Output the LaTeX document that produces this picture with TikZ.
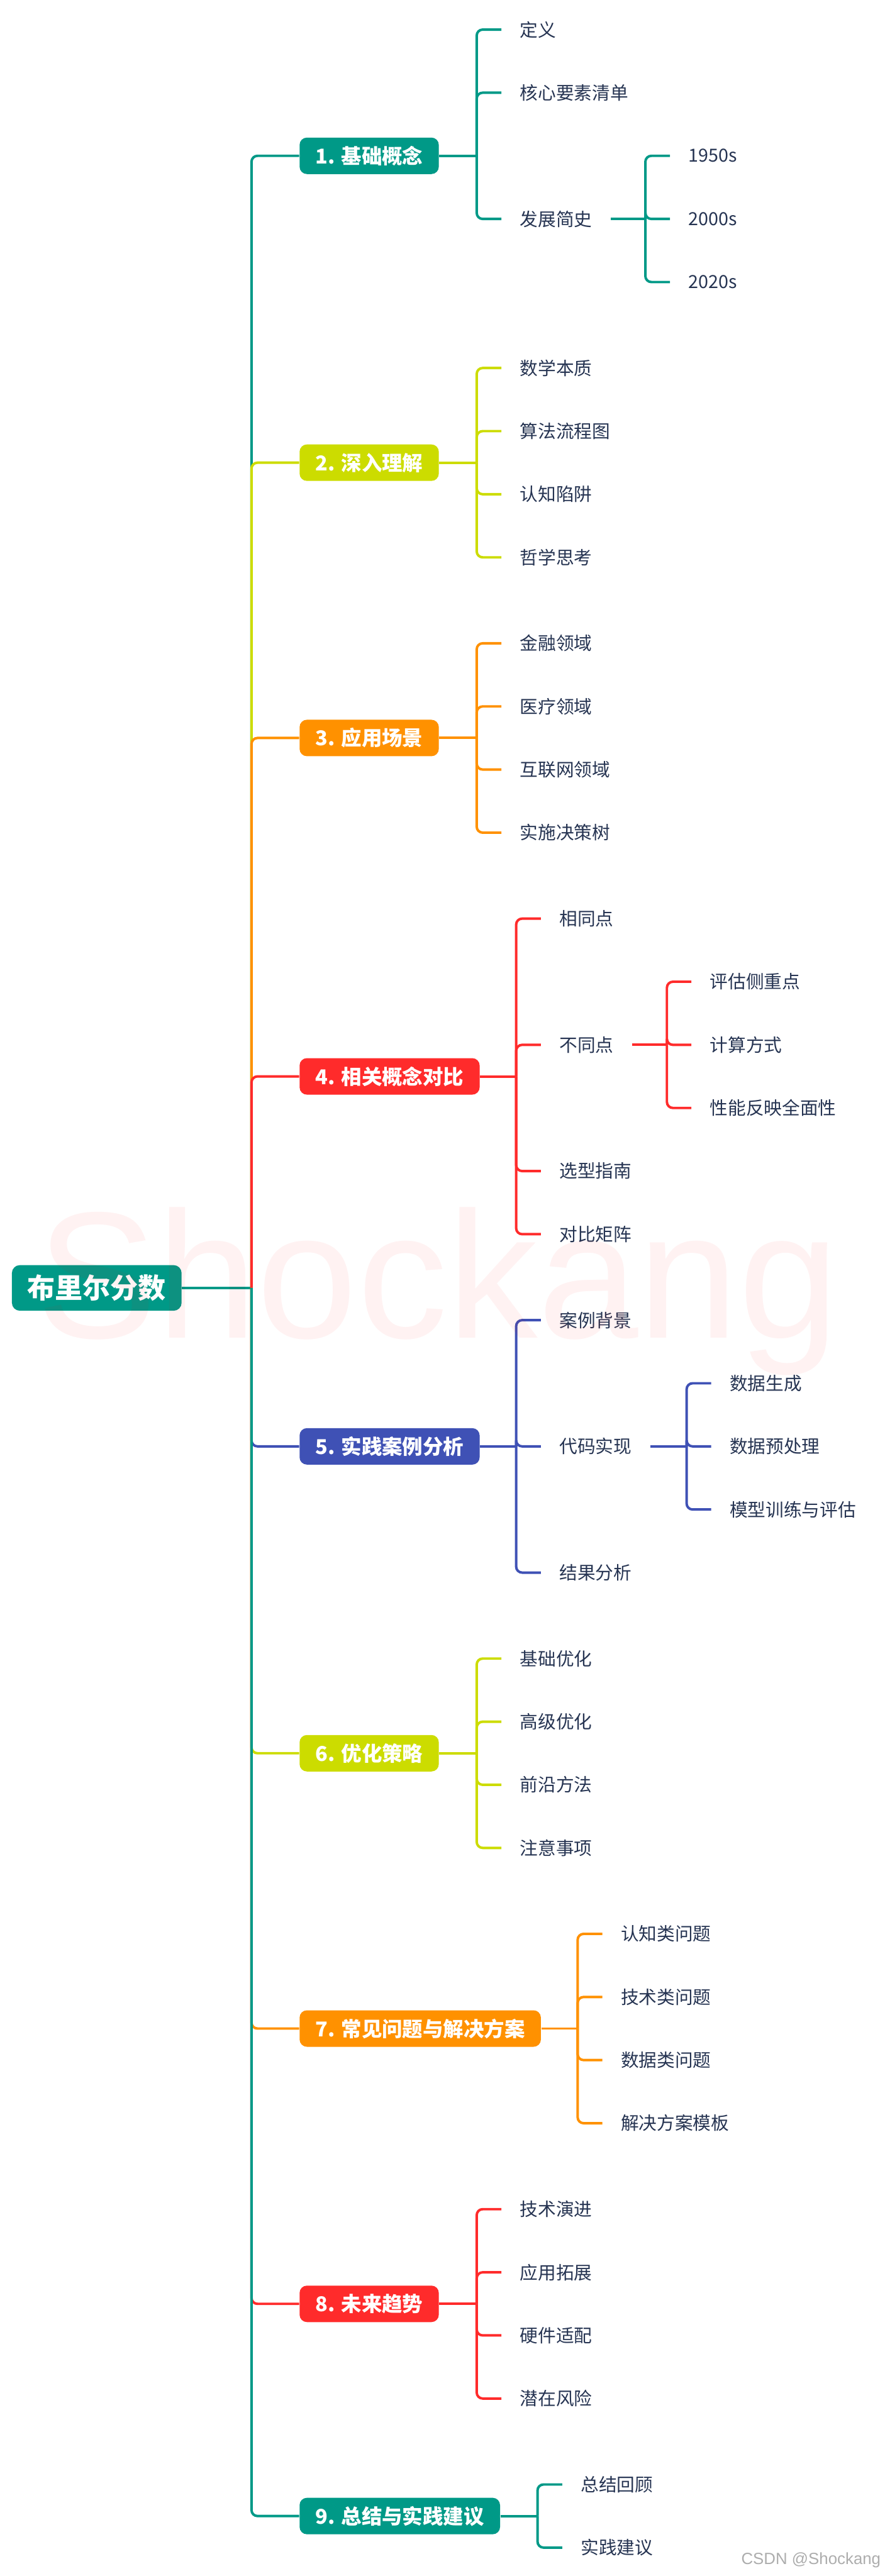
\documentclass[tikz,border=0pt]{standalone}
\usepackage{fontspec}
\setmainfont{Noto Sans CJK SC}
\newfontfamily\latinfont{Liberation Sans}
\usetikzlibrary{calc}

\definecolor{brteal}{RGB}{0,153,135}
\definecolor{brlime}{RGB}{204,220,0}
\definecolor{brorange}{RGB}{255,145,0}
\definecolor{brred}{RGB}{255,43,43}
\definecolor{brblue}{RGB}{63,81,181}
\definecolor{leaftext}{RGB}{38,52,82}

\begin{document}
\begin{tikzpicture}[
    x=0.029145cm, y=-0.029145cm,
    root/.style={rectangle, rounded corners=4pt, fill=brteal, text=white, inner xsep=7.8pt, minimum height=23pt, font=\fontsize{14}{16}\selectfont\bfseries},
    topic/.style={rectangle, rounded corners=3.7pt, text=white, inner xsep=8pt, minimum height=18.4pt, anchor=west, font=\fontsize{10.3}{13}\selectfont\bfseries},
    leaf/.style={anchor=west, text=leaftext, inner xsep=9.2pt, inner ysep=1pt, font=\fontsize{9.1}{11}\selectfont},
    link/.style={line width=1.25pt, rounded corners=3pt}
]

\useasboundingbox (0,0) rectangle (538,1567.3);

% Root
\node[root, anchor=west] (brier) at (7,783.6) {布里尔分数};

% Main topics
\node[topic, fill=brteal] (basics) at (182,94.8) {1. 基础概念};
\node[topic, fill=brlime] (insight) at (182,281.5) {2. 深入理解};
\node[topic, fill=brorange] (apps) at (182,449.0) {3. 应用场景};
\node[topic, fill=brred] (compare) at (182,654.9) {4. 相关概念对比};
\node[topic, fill=brblue] (practice) at (182,880.0) {5. 实践案例分析};
\node[topic, fill=brlime] (optim) at (182,1066.7) {6. 优化策略};
\node[topic, fill=brorange] (faq) at (182,1234.2) {7. 常见问题与解决方案};
\node[topic, fill=brred] (future) at (182,1401.7) {8. 未来趋势};
\node[topic, fill=brteal] (summary) at (182,1530.8) {9. 总结与实践建议};

% Junctions
\coordinate (trunk) at (153,783.6);
\coordinate (jbasics) at (290,94.8);
\coordinate (jinsight) at (290,281.5);
\coordinate (japps) at (290,449.0);
\coordinate (jcompare) at (314,654.9);
\coordinate (jpractice) at (314,880.0);
\coordinate (joptim) at (290,1066.7);
\coordinate (jfaq) at (351.4,1234.2);
\coordinate (jfuture) at (290,1401.7);
\coordinate (jsummary) at (327,1530.8);
\coordinate (jhistory) at (392.6,133.2);
\coordinate (jdiff) at (405.7,635.7);
\coordinate (jcode) at (417.7,880.0);

% 1. basics
\node[leaf] (definition) at (305,18.0) {定义};
\node[leaf] (elements) at (305,56.4) {核心要素清单};
\node[leaf] (history) at (305,133.2) {发展简史};
\node[leaf] (y1950) at (407.6,94.8) {1950s};
\node[leaf] (y2000) at (407.6,133.2) {2000s};
\node[leaf] (y2020) at (407.6,171.6) {2020s};

% 2. insight
\node[leaf] (mathcore) at (305,223.9) {数学本质};
\node[leaf] (flowchart) at (305,262.3) {算法流程图};
\node[leaf] (pitfalls) at (305,300.7) {认知陷阱};
\node[leaf] (philosophy) at (305,339.1) {哲学思考};

% 3. apps
\node[leaf] (finance) at (305,391.4) {金融领域};
\node[leaf] (medical) at (305,429.8) {医疗领域};
\node[leaf] (internet) at (305,468.2) {互联网领域};
\node[leaf] (dectree) at (305,506.6) {实施决策树};

% 4. compare
\node[leaf] (same) at (329,558.9) {相同点};
\node[leaf] (diff) at (329,635.7) {不同点};
\node[leaf] (focus) at (420.6,597.3) {评估侧重点};
\node[leaf] (calcway) at (420.6,635.7) {计算方式};
\node[leaf] (coverage) at (420.6,674.1) {性能反映全面性};
\node[leaf] (guide) at (329,712.5) {选型指南};
\node[leaf] (matrix) at (329,750.9) {对比矩阵};

% 5. practice
\node[leaf] (background) at (329,803.2) {案例背景};
\node[leaf] (code) at (329,880.0) {代码实现};
\node[leaf] (datagen) at (432.6,841.6) {数据生成};
\node[leaf] (preproc) at (432.6,880.0) {数据预处理};
\node[leaf] (training) at (432.6,918.4) {模型训练与评估};
\node[leaf] (results) at (329,956.8) {结果分析};

% 6. optim
\node[leaf] (basicopt) at (305,1009.1) {基础优化};
\node[leaf] (advopt) at (305,1047.5) {高级优化};
\node[leaf] (frontier) at (305,1085.9) {前沿方法};
\node[leaf] (caveats) at (305,1124.3) {注意事项};

% 7. faq
\node[leaf] (cogq) at (366.4,1176.6) {认知类问题};
\node[leaf] (techq) at (366.4,1215.0) {技术类问题};
\node[leaf] (dataq) at (366.4,1253.4) {数据类问题};
\node[leaf] (template) at (366.4,1291.8) {解决方案模板};

% 8. future
\node[leaf] (techevo) at (305,1344.1) {技术演进};
\node[leaf] (appext) at (305,1382.5) {应用拓展};
\node[leaf] (hardware) at (305,1420.9) {硬件适配};
\node[leaf] (risks) at (305,1459.3) {潜在风险};

% 9. summary
\node[leaf] (review) at (342,1511.6) {总结回顾};
\node[leaf] (advice) at (342,1550.0) {实践建议};

% Trunk (drawn 1 to 9, lower ones end up on top)
\draw[link, brteal] (brier.east) -- (trunk);
\draw[link, brteal] (trunk) |- (basics.west);
\draw[link, brlime] (trunk) |- (insight.west);
\draw[link, brorange] (trunk) |- (apps.west);
\draw[link, brred] (trunk) |- (compare.west);
\draw[link, brblue] (trunk) |- (practice.west);
\draw[link, brlime] (trunk) |- (optim.west);
\draw[link, brorange] (trunk) |- (faq.west);
\draw[link, brred] (trunk) |- (future.west);
\draw[link, brteal] (trunk) |- (summary.west);

% 1. basics links
\draw[link, brteal] (basics.east) -- (jbasics);
\draw[link, brteal] (jbasics) |- (definition.west);
\draw[link, brteal] (jbasics) |- (elements.west);
\draw[link, brteal] (jbasics) |- (history.west);
\draw[link, brteal] (history.east) -- (jhistory);
\draw[link, brteal] (jhistory) |- (y1950.west);
\draw[link, brteal] (jhistory) |- (y2000.west);
\draw[link, brteal] (jhistory) |- (y2020.west);

% 2. insight links
\draw[link, brlime] (insight.east) -- (jinsight);
\draw[link, brlime] (jinsight) |- (mathcore.west);
\draw[link, brlime] (jinsight) |- (flowchart.west);
\draw[link, brlime] (jinsight) |- (pitfalls.west);
\draw[link, brlime] (jinsight) |- (philosophy.west);

% 3. apps links
\draw[link, brorange] (apps.east) -- (japps);
\draw[link, brorange] (japps) |- (finance.west);
\draw[link, brorange] (japps) |- (medical.west);
\draw[link, brorange] (japps) |- (internet.west);
\draw[link, brorange] (japps) |- (dectree.west);

% 4. compare links
\draw[link, brred] (compare.east) -- (jcompare);
\draw[link, brred] (jcompare) |- (same.west);
\draw[link, brred] (jcompare) |- (diff.west);
\draw[link, brred] (jcompare) |- (guide.west);
\draw[link, brred] (jcompare) |- (matrix.west);
\draw[link, brred] (diff.east) -- (jdiff);
\draw[link, brred] (jdiff) |- (focus.west);
\draw[link, brred] (jdiff) |- (calcway.west);
\draw[link, brred] (jdiff) |- (coverage.west);

% 5. practice links
\draw[link, brblue] (practice.east) -- (jpractice);
\draw[link, brblue] (jpractice) |- (background.west);
\draw[link, brblue] (jpractice) |- (code.west);
\draw[link, brblue] (jpractice) |- (results.west);
\draw[link, brblue] (code.east) -- (jcode);
\draw[link, brblue] (jcode) |- (datagen.west);
\draw[link, brblue] (jcode) |- (preproc.west);
\draw[link, brblue] (jcode) |- (training.west);

% 6. optim links
\draw[link, brlime] (optim.east) -- (joptim);
\draw[link, brlime] (joptim) |- (basicopt.west);
\draw[link, brlime] (joptim) |- (advopt.west);
\draw[link, brlime] (joptim) |- (frontier.west);
\draw[link, brlime] (joptim) |- (caveats.west);

% 7. faq links
\draw[link, brorange] (faq.east) -- (jfaq);
\draw[link, brorange] (jfaq) |- (cogq.west);
\draw[link, brorange] (jfaq) |- (techq.west);
\draw[link, brorange] (jfaq) |- (dataq.west);
\draw[link, brorange] (jfaq) |- (template.west);

% 8. future links
\draw[link, brred] (future.east) -- (jfuture);
\draw[link, brred] (jfuture) |- (techevo.west);
\draw[link, brred] (jfuture) |- (appext.west);
\draw[link, brred] (jfuture) |- (hardware.west);
\draw[link, brred] (jfuture) |- (risks.west);

% 9. summary links
\draw[link, brteal] (summary.east) -- (jsummary);
\draw[link, brteal] (jsummary) |- (review.west);
\draw[link, brteal] (jsummary) |- (advice.west);

% Watermarks
\node[anchor=base west, inner sep=0, text=red, text opacity=0.05, font=\latinfont\fontsize{91}{91}\selectfont] (mark) at (22,813.9) {Shockang};
\node[anchor=east, inner sep=0, text=black!32, font=\latinfont\fontsize{8.2}{10}\selectfont] (credit) at (536,1557.7) {CSDN @Shockang};

\end{tikzpicture}
\end{document}
